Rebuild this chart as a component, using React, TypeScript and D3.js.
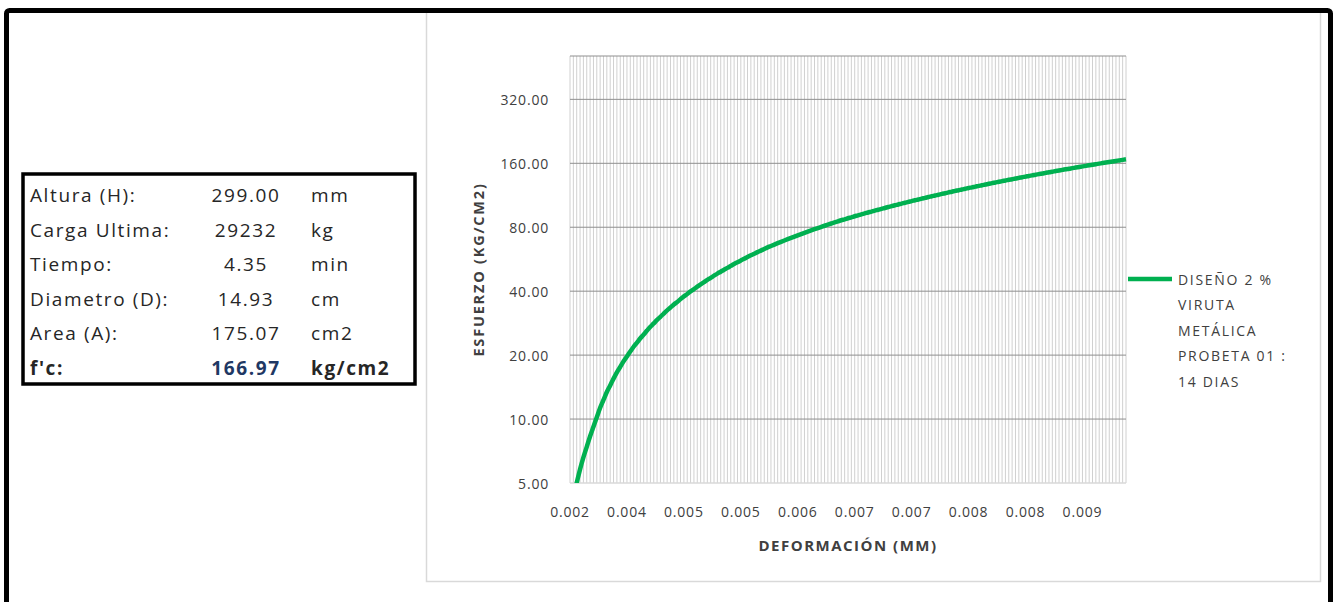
import * as d3 from "d3";

// deformation readings (category axis)
const deformation = [
  0.0022, 0.00228, 0.00236, 0.00245, 0.00253, 0.00261, 0.00269, 0.00278, 0.00286, 0.00294,
  0.00302, 0.00311, 0.00319, 0.00327, 0.00335, 0.00344, 0.00352, 0.0036, 0.00366, 0.00372,
  0.00378, 0.00384, 0.00389, 0.00395, 0.00401, 0.00407, 0.00413, 0.00419, 0.00425, 0.00431,
  0.00436, 0.00442, 0.00448, 0.00454, 0.0046, 0.00465, 0.00469, 0.00474, 0.00479, 0.00484,
  0.00488, 0.00493, 0.00498, 0.00502, 0.00507, 0.00512, 0.00516, 0.00521, 0.00526, 0.00531,
  0.00535, 0.0054, 0.00544, 0.00548, 0.00552, 0.00556, 0.00561, 0.00565, 0.00569, 0.00573,
  0.00577, 0.00581, 0.00585, 0.00589, 0.00594, 0.00598, 0.00602, 0.00606, 0.0061, 0.00614,
  0.00617, 0.00621, 0.00624, 0.00628, 0.00631, 0.00635, 0.00638, 0.00642, 0.00645, 0.00649,
  0.00652, 0.00656, 0.00659, 0.00663, 0.00666, 0.0067, 0.00674, 0.00677, 0.00681, 0.00684,
  0.00688, 0.00691, 0.00695, 0.00698, 0.00702, 0.00705, 0.00709, 0.00712, 0.00716, 0.00719,
  0.00723, 0.00726, 0.0073, 0.00733, 0.00736, 0.00739, 0.00742, 0.00745, 0.00748, 0.00751,
  0.00754, 0.00756, 0.00759, 0.00762, 0.00765, 0.00768, 0.00771, 0.00774, 0.00777, 0.0078,
  0.00783, 0.00786, 0.00789, 0.00792, 0.00795, 0.00798, 0.00801, 0.00804, 0.00806, 0.00809,
  0.00812, 0.00815, 0.00818, 0.00821, 0.00824, 0.00827, 0.0083, 0.00833, 0.00836, 0.00839,
  0.00842, 0.00845, 0.00848, 0.00851, 0.00854, 0.00856, 0.00859, 0.00862, 0.00865, 0.00868,
  0.00871, 0.00874, 0.00877, 0.0088, 0.00883, 0.00886, 0.00889, 0.00892, 0.00895, 0.00898,
  0.00902, 0.00905, 0.00908, 0.00911, 0.00914, 0.00917, 0.0092,
];

// esfuerzo (kg/cm2) at each reading
const stress = [
  3.6, 4.3, 5.0, 5.8, 6.6, 7.4, 8.3, 9.2, 10.2, 11.3,
  12.3, 13.4, 14.4, 15.5, 16.6, 17.6, 18.7, 19.7, 20.8, 21.9,
  22.9, 24.0, 25.0, 26.1, 27.2, 28.2, 29.3, 30.3, 31.4, 32.5,
  33.5, 34.6, 35.6, 36.7, 37.8, 38.8, 39.9, 40.9, 42.0, 43.1,
  44.1, 45.2, 46.2, 47.3, 48.4, 49.4, 50.5, 51.5, 52.6, 53.7,
  54.7, 55.8, 56.8, 57.9, 59.0, 60.0, 61.1, 62.1, 63.2, 64.3,
  65.3, 66.3, 67.3, 68.3, 69.3, 70.3, 71.3, 72.3, 73.3, 74.3,
  75.3, 76.3, 77.3, 78.3, 79.3, 80.3, 81.3, 82.3, 83.3, 84.3,
  85.3, 86.3, 87.2, 88.2, 89.1, 90.1, 91.0, 92.0, 92.9, 93.9,
  94.8, 95.8, 96.7, 97.7, 98.6, 99.6, 100.5, 101.5, 102.4, 103.4,
  104.3, 105.3, 106.2, 107.2, 108.1, 109.1, 110.0, 111.0, 111.9, 112.9,
  113.8, 114.8, 115.7, 116.7, 117.6, 118.6, 119.5, 120.5, 121.4, 122.4,
  123.3, 124.3, 125.2, 126.2, 127.1, 128.1, 129.0, 130.0, 130.9, 131.9,
  132.8, 133.8, 134.7, 135.7, 136.6, 137.6, 138.5, 139.5, 140.4, 141.4,
  142.3, 143.3, 144.2, 145.2, 146.1, 147.1, 148.0, 149.0, 149.9, 150.9,
  151.8, 152.8, 153.7, 154.7, 155.6, 156.6, 157.5, 158.5, 159.4, 160.4,
  161.3, 162.3, 163.2, 164.2, 165.1, 166.1, 167.0,
];

const yTicks = [5, 10, 20, 40, 80, 160, 320];
const yMax = 512;
const labelEvery = 17;

const seriesName = ["DISEÑO 2 %", "VIRUTA", "METÁLICA", "PROBETA 01 :", "14 DIAS"];

const tableLabels = ["Altura (H):", "Carga Ultima:", "Tiempo:", "Diametro (D):", "Area (A):", "f'c:"];
const tableValues = ["299.00", "29232", "4.35", "14.93", "175.07", "166.97"];
const tableUnits = ["mm", "kg", "min", "cm", "cm2", "kg/cm2"];

const font = "'Open Sans', sans-serif";
const textColor = "#404040";

export default function App() {
  const plot = { left: 570, right: 1126, top: 56, bottom: 483 };
  const idx = deformation.map((_, i) => i);

  const x = d3.scalePoint<number>().domain(idx).range([plot.left, plot.right]);
  const y = d3.scaleLog().base(2).domain([5, yMax]).range([plot.bottom, plot.top]);

  const line = d3
    .line<number>()
    .x((_, i) => x(i) as number)
    .y((d) => y(d))
    .curve(d3.curveMonotoneX);

  const fmtX = d3.format(".3f");
  const fmtY = d3.format(".2f");

  return (
    <svg width={1337} height={602} style={{ display: "block", background: "#fff" }}>
      <style>{`body{margin:0}`}</style>
      <rect x={0} y={0} width={1337} height={602} fill="#fff" />

      {/* chart area */}
      <rect x={426.5} y={12} width={894} height={569.5} fill="#fff" stroke="#d9d9d9" strokeWidth={1.5} />

      {/* vertical category gridlines */}
      {idx.map((i) => (
        <line key={"v" + i} x1={x(i)} x2={x(i)} y1={plot.top} y2={plot.bottom} stroke="#d0d0d0" strokeWidth={1} />
      ))}

      {/* horizontal gridlines */}
      {[...yTicks.slice(1), yMax].map((t) => (
        <line key={"h" + t} x1={plot.left} x2={plot.right} y1={y(t)} y2={y(t)} stroke="#8f8f8f" strokeWidth={1} />
      ))}
      <line x1={plot.left} x2={plot.right} y1={plot.bottom} y2={plot.bottom} stroke="#d9d9d9" strokeWidth={1.5} />

      {/* y tick labels */}
      {yTicks.map((t) => (
        <text
          key={"yt" + t}
          x={549}
          y={y(t)}
          textAnchor="end"
          dominantBaseline="central"
          fontFamily={font}
          fontSize={14}
          letterSpacing={0.8}
          fill={textColor}
        >
          {fmtY(t)}
        </text>
      ))}

      {/* x tick labels */}
      {idx
        .filter((i) => i % labelEvery === 0)
        .map((i) => (
          <text
            key={"xt" + i}
            x={x(i)}
            y={511}
            textAnchor="middle"
            dominantBaseline="central"
            fontFamily={font}
            fontSize={14}
            letterSpacing={0.8}
            fill={textColor}
          >
            {fmtX(deformation[i])}
          </text>
        ))}

      {/* axis titles */}
      <text
        x={(plot.left + plot.right) / 2}
        y={545}
        textAnchor="middle"
        dominantBaseline="central"
        fontFamily={font}
        fontWeight="bold"
        fontSize={15}
        letterSpacing={1.5}
        fill={textColor}
      >
        DEFORMACIÓN (MM)
      </text>
      <text
        transform={`translate(478,${(plot.top + plot.bottom) / 2}) rotate(-90)`}
        textAnchor="middle"
        dominantBaseline="central"
        fontFamily={font}
        fontWeight="bold"
        fontSize={14.5}
        letterSpacing={1.8}
        fill={textColor}
      >
        ESFUERZO (KG/CM2)
      </text>

      {/* series */}
      <clipPath id="plotClip">
        <rect x={plot.left} y={plot.top} width={plot.right - plot.left + 6} height={plot.bottom - plot.top} />
      </clipPath>
      <path
        d={line(stress) || ""}
        fill="none"
        stroke="#00b050"
        strokeWidth={4.5}
        strokeLinejoin="round"
        clipPath="url(#plotClip)"
      />

      {/* legend */}
      <line x1={1128} x2={1172} y1={279} y2={279} stroke="#00b050" strokeWidth={4.5} />
      {seriesName.map((s, i) => (
        <text
          key={"lg" + i}
          x={1178}
          y={279 + i * 25.6}
          dominantBaseline="central"
          fontFamily={font}
          fontSize={14}
          letterSpacing={1.7}
          fill={textColor}
        >
          {s}
        </text>
      ))}

      {/* data table */}
      <rect x={23} y={174} width={392} height={210} fill="#fff" stroke="#000" strokeWidth={3.5} />
      {tableLabels.map((l, i) => {
        const last = i === tableLabels.length - 1;
        const cy = 195 + i * 34.6;
        return (
          <g key={"tr" + i} fontFamily={font} fontSize={19} fontWeight={last ? "bold" : "normal"} letterSpacing={1.6}>
            <text x={30} y={cy} dominantBaseline="central" fill="#262626">
              {l}
            </text>
            <text x={246} y={cy} textAnchor="middle" dominantBaseline="central" fill={last ? "#1f3864" : "#262626"}>
              {tableValues[i]}
            </text>
            <text x={311} y={cy} dominantBaseline="central" fill="#262626">
              {tableUnits[i]}
            </text>
          </g>
        );
      })}

      {/* outer frame */}
      <rect x={6.5} y={10.5} width={1324} height={700} rx={3} fill="none" stroke="#000" strokeWidth={5} />
    </svg>
  );
}
